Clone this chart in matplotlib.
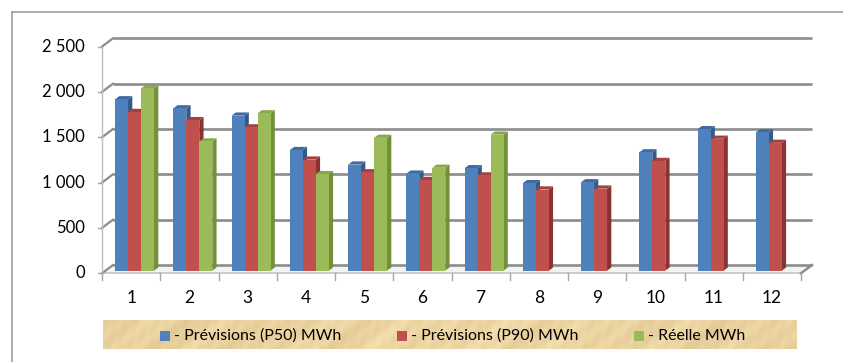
import numpy as np
import matplotlib
matplotlib.use("Agg")
import matplotlib.pyplot as plt
from matplotlib.patches import Polygon, Rectangle
from matplotlib.lines import Line2D

plt.rcParams['font.family'] = ['Lato', 'DejaVu Sans']

# ---- data -------------------------------------------------------------
months = [str(i) for i in range(1, 13)]
p50 = [1890, 1790, 1710, 1330, 1170, 1070, 1130, 965, 975, 1305, 1560, 1525]
p90 = [1750, 1660, 1580, 1225, 1085, 1000, 1050, 895, 905, 1210, 1455, 1410]
reel = [2010, 1425, 1735, 1065, 1465, 1135, 1500,
        np.nan, np.nan, np.nan, np.nan, np.nan]
series_labels = ["- Prévisions (P50) MWh", "- Prévisions (P90) MWh", "- Réelle MWh"]
y_ticks = [0, 500, 1000, 1500, 2000, 2500]
y_tick_labels = ["0", "500", "1 000", "1 500", "2 000", "2 500"]

# face colours: front, top, side
palette = [
    ("#4F81BD", "#3E6AA2", "#345A8A"),
    ("#C0504D", "#A43F3C", "#8A3331"),
    ("#9BBB59", "#88A84A", "#74903A"),
]

W, H = 843, 362
fig = plt.figure(figsize=(W / 100, H / 100), dpi=100)
fig.patch.set_facecolor("white")

# front plane of the plot area, in pixels
x0px, x1px = 102, 801
ytop_px, ybot_px = 46.6, 273.3
ax = fig.add_axes([x0px / W, 1 - ybot_px / H, (x1px - x0px) / W, (ybot_px - ytop_px) / H])
ax.set_xlim(0.5, 12.5)
ax.set_ylim(0, 2500)
ax.axis("off")

ppx = (x1px - x0px) / 12.0
ppy = (ybot_px - ytop_px) / 2500.0


def off(px, py):
    """pixel offset -> data offset"""
    return px / ppx, py / ppy


wx, wy = off(11, 8.3)        # back wall depth
fx, fy = off(3.4, 2.6)       # bar front plane
dx, dy = off(4.3, 3.2)       # bar depth
GRID = "#8C8C8C"

# floor
ax.add_patch(Polygon([(0.5, 0), (12.5, 0), (12.5 + wx, wy), (0.5 + wx, wy)],
                     closed=True, facecolor="#F3F3F3", edgecolor="none",
                     zorder=1, clip_on=False))
ax.add_line(Line2D([0.5, 12.5], [0, 0], color="#C4C4C4", lw=1.2, zorder=2, clip_on=False))
ax.add_line(Line2D([12.5, 12.5 + wx], [0, wy], color=GRID, lw=1.8, zorder=2, clip_on=False))

# back wall gridlines and side connectors
for v, lab in zip(y_ticks, y_tick_labels):
    ax.add_line(Line2D([0.5 + wx, 12.5 + wx], [v + wy, v + wy], color=GRID, lw=1.9,
                       zorder=2, clip_on=False, solid_capstyle="butt"))
    ax.add_line(Line2D([0.5, 0.5 + wx], [v, v + wy], color=GRID, lw=1.6,
                       zorder=2, clip_on=False))
    ax.add_line(Line2D([0.5 - 4 / ppx, 0.5], [v, v], color="#A6A6A6", lw=1.0,
                       zorder=2, clip_on=False))
    ax.text(0.5 - 17 / ppx, v, lab, ha="right", va="center",
            fontsize=12, color="black")

# front value axis
ax.add_line(Line2D([0.5, 0.5], [0, 2500], color="#BDBDBD", lw=1.0, zorder=2, clip_on=False))

# category ticks and labels
for b in np.arange(0.5, 13.0, 1.0):
    ax.add_line(Line2D([b, b], [0, -7 / ppy], color="#A6A6A6", lw=1.0, zorder=2, clip_on=False))
xc = np.arange(1, 13)
for x, lab in zip(xc, months):
    ax.text(x, -25 / ppy, lab, ha="center", va="center", fontsize=12.5, color="black")

# bars
bw = 13.0 / ppx
series = [p50, p90, reel]
for i in range(12):
    for k, vals in enumerate(series):
        v = vals[i]
        if np.isnan(v):
            continue
        front, top, side = palette[k]
        z = 10 + (i * 3 + k) * 0.01
        l = xc[i] + (k - 1) * bw - bw / 2 + fx
        r = l + bw
        b = fy
        t = v + fy
        ax.add_patch(Polygon([(r, b), (r + dx, b + dy), (r + dx, t + dy), (r, t)],
                             closed=True, facecolor=side, edgecolor="none",
                             zorder=z, clip_on=False))
        ax.add_patch(Polygon([(l, t), (r, t), (r + dx, t + dy), (l + dx, t + dy)],
                             closed=True, facecolor=top, edgecolor="none",
                             zorder=z + 0.001, clip_on=False))
        ax.bar([xc[i] + (k - 1) * bw + fx], [v], width=bw, bottom=fy,
               color=front, edgecolor="none", zorder=z + 0.002, clip_on=False)

# outer chart frame
fig.add_artist(Line2D([12 / W, 1], [1 - 12 / H, 1 - 12 / H], transform=fig.transFigure,
                      color="#A0A0A0", lw=1.2))
fig.add_artist(Line2D([12 / W, 12 / W], [0, 1 - 12 / H], transform=fig.transFigure,
                      color="#A0A0A0", lw=1.2))

# legend band with a parchment-like fill
lx0, lx1, ly0, ly1 = 103, 796, 320, 349
lax = fig.add_axes([lx0 / W, 1 - ly1 / H, (lx1 - lx0) / W, (ly1 - ly0) / H])
lax.axis("off")
gx = np.linspace(0, 1, 700)[None, :]
gy = np.linspace(0, 1, 30)[:, None]
shade = (0.5 + 0.3 * np.sin(gx * 61.0 + gy * 3.0) * np.sin(gx * 13.0)
         + 0.18 * np.sin(gy * 9.0 + gx * 170.0) + 0.12 * np.sin(gx * 7.0 + 1.0)
         + 0.1 * np.sin(gx * 430.0 + gy * 5.0))
base = np.array([0.925, 0.840, 0.650])
dark = np.array([0.820, 0.710, 0.500])
tex = base[None, None, :] * (1 - 0.6 * shade[..., None]) + dark[None, None, :] * 0.6 * shade[..., None]
tex = np.clip(tex + 0.03, 0, 1)
lax.imshow(tex, aspect="auto", extent=[0, 1, 0, 1], interpolation="bilinear")
lax.set_xlim(0, 1)
lax.set_ylim(0, 1)

legend_sq_x = [160, 397, 634]
ymid = 335.5
for k, lab in enumerate(series_labels):
    sx = legend_sq_x[k]
    fig.add_artist(Rectangle((sx / W, 1 - 340.5 / H), 9.5 / W, 9.5 / H,
                             transform=fig.transFigure, facecolor=palette[k][0],
                             edgecolor="none"))
    fig.text((sx + 14) / W, 1 - ymid / H, lab, ha="left", va="center",
             fontsize=11.5, color="black")

fig.savefig("out.png", dpi=100)
